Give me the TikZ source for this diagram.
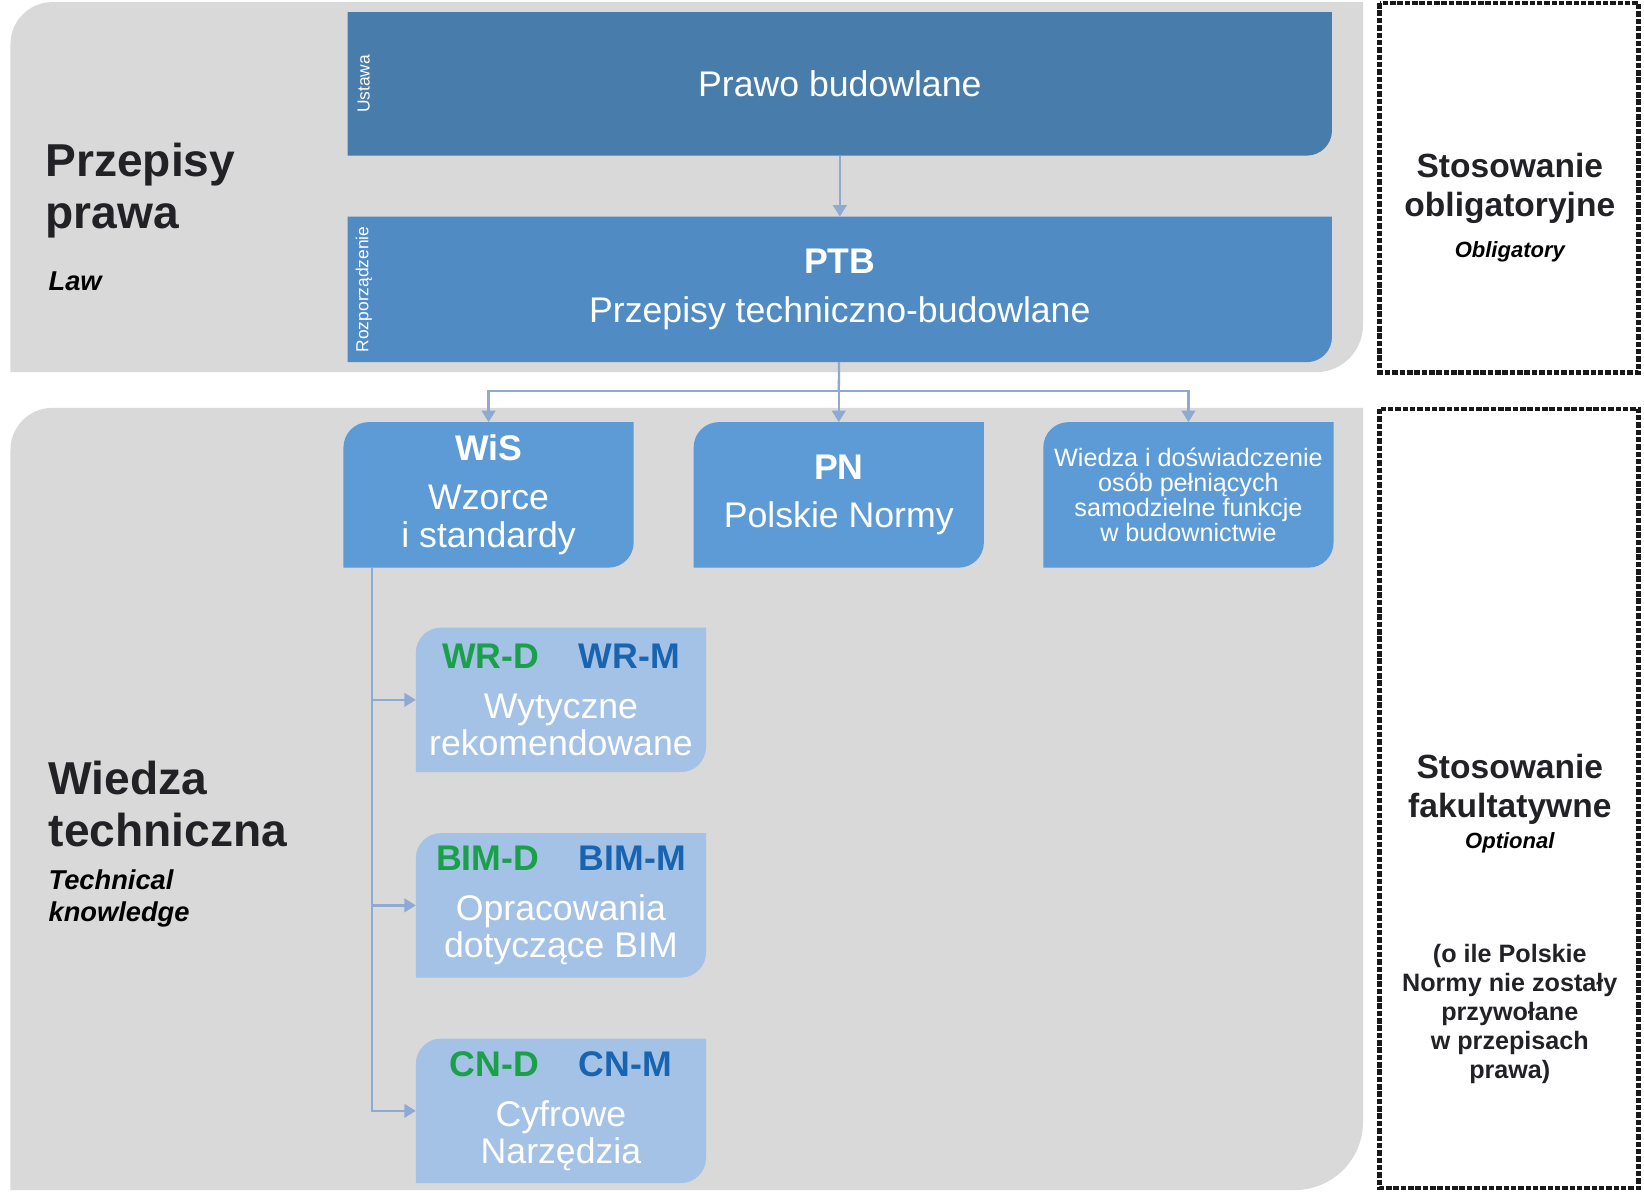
\documentclass[tikz,border=0pt]{standalone}
\usepackage{fontspec}
\setmainfont{Liberation Sans}
\usetikzlibrary{arrows.meta,backgrounds}

\definecolor{panelgrey}{RGB}{217,217,217}
\definecolor{lawblue}{RGB}{72,124,171}
\definecolor{ptbblue}{RGB}{80,139,196}
\definecolor{knowblue}{RGB}{92,155,213}
\definecolor{subblue}{RGB}{164,193,230}
\definecolor{linkblue}{RGB}{143,170,210}
\definecolor{codegreen}{RGB}{26,160,72}
\definecolor{codeblue}{RGB}{24,100,176}
\definecolor{labelgrey}{RGB}{34,34,38}

\newcommand{\fsz}[2]{\fontsize{#1}{#2}\selectfont}
% fill behind a node, bottom-right corner rounded
\newcommand{\fillbr}[2]{%
  \fill[#2] (#1.south west) -- (#1.north west) -- (#1.north east)
    -- ([yshift=12pt]#1.south east) arc[start angle=0,end angle=-90,radius=12pt] -- cycle;}
% fill behind a node, top-left and bottom-right corners rounded
\newcommand{\filltlbr}[2]{%
  \fill[#2] (#1.south west) -- ([yshift=-12pt]#1.north west) arc[start angle=180,end angle=90,radius=12pt]
    -- (#1.north east) -- ([yshift=12pt]#1.south east) arc[start angle=0,end angle=-90,radius=12pt] -- cycle;}

\begin{document}
\begin{tikzpicture}[x=0.5pt,y=-0.5pt,
    box/.style={inner sep=0pt,minimum width=469pt,minimum height=68pt,text=white,align=center},
    card/.style={inner sep=0pt,minimum width=138pt,minimum height=69pt,text=white,align=center},
    link/.style={draw=linkblue,line width=1.1pt},
    frame/.style={draw=black!90,line width=2.2pt,dash pattern=on 2.6pt off 0.9pt},
    >={Triangle[length=5.5pt,width=6.5pt]}]
	\useasboundingbox (0,0) rectangle (1568,1137);
	% law
	\node[box,font=\fsz{17}{20}] (prawo) at (801,80) {Prawo budowlane};
	\node[box,minimum height=69pt,font=\fsz{17}{23}] (ptb) at (801,276) {\textbf{PTB}\\Przepisy techniczno-budowlane};
	\node[rotate=90,inner sep=0pt,text=white,font=\fsz{8.3}{10}] (ustawa) at (347,80) {Ustawa};
	\node[rotate=90,inner sep=0pt,text=white,font=\fsz{8.3}{10}] (rozp) at (347,276) {Rozporządzenie};
	% technical knowledge
	\node[card,font=\fsz{17}{18}] (wis) at (466,472) {\textbf{WiS}\\[5.5pt]Wzorce\\i standardy};
	\node[card,font=\fsz{17}{23}] (pn) at (800,472) {\textbf{PN}\\Polskie Normy};
	\node[card,font=\fsz{12}{12}] (wiedza) at (1133.5,472) {Wiedza i doświadczenie\\osób pełniących\\samodzielne funkcje\\w budownictwie};
	\node[card,minimum height=68.5pt,font=\fsz{17}{17.5}] (wr) at (535,667.5) {\textbf{\color{codegreen}WR-D}\hspace{19pt}\textbf{\color{codeblue}WR-M}\\[6.5pt]Wytyczne\\rekomendowane};
	\node[card,minimum height=68.5pt,font=\fsz{17}{17.5}] (bim) at (535,863.5) {\textbf{\color{codegreen}BIM-D}\hspace{19pt}\textbf{\color{codeblue}BIM-M}\\[6.5pt]Opracowania\\dotyczące BIM};
	\node[card,minimum height=68.5pt,font=\fsz{17}{17.5}] (cn) at (535,1059.5) {\textbf{\color{codegreen}CN-D}\hspace{19pt}\textbf{\color{codeblue}CN-M}\\[6.5pt]Cyfrowe\\Narzędzia};
	% side labels
	\node[anchor=west,inner sep=0pt,align=left,text=labelgrey,font=\bfseries\fsz{22}{25}] (przepisy) at (43,182) {Przepisy\\prawa};
	\node[anchor=west,inner sep=0pt,font=\bfseries\itshape\fsz{13}{15}] (law) at (46,268) {Law};
	\node[anchor=west,inner sep=0pt,align=left,text=labelgrey,font=\bfseries\fsz{22}{25}] (wiedzat) at (46,767) {Wiedza\\techniczna};
	\node[anchor=west,inner sep=0pt,align=left,font=\bfseries\itshape\fsz{13}{15}] (technical) at (46,857) {Technical\\knowledge};
	\node[align=center,text=labelgrey,font=\bfseries\fsz{16}{18.5}] (oblig) at (1440,180) {Stosowanie\\obligatoryjne};
	\node[font=\bfseries\itshape\fsz{10.5}{12}] (obligen) at (1440,240) {Obligatory};
	\node[align=center,text=labelgrey,font=\bfseries\fsz{16}{18.5}] (fakult) at (1440,753) {Stosowanie\\fakultatywne};
	\node[font=\bfseries\itshape\fsz{10.5}{12}] (optional) at (1440,804) {Optional};
	\node[align=center,text=labelgrey,font=\bfseries\fsz{12}{13.75}] (uwaga) at (1440,967) {(o ile Polskie\\Normy nie zostały\\przywołane\\w przepisach\\prawa)};
	% frames
	\draw[frame] (1316,3) rectangle (1563,355);
	\draw[frame] (1316,390) rectangle (1563,1133);
	% connectors
	\coordinate (fork) at (800,373);
	\coordinate (trunk) at ([xshift=13.5pt]wis.south west);
	\draw[link,->] (prawo) -- (ptb);
	\draw[link] (ptb) -- (fork);
	\draw[link,->] (fork) -- (pn);
	\draw[link,->] (fork) -| (wis);
	\draw[link,->] (fork) -| (wiedza);
	\draw[link,->] (trunk) |- (wr);
	\draw[link,->] (trunk) |- (bim);
	\draw[link,->] (trunk) |- (cn);
	% panels and box fills
	\begin{scope}[on background layer]
		\fill[panelgrey] (10,355) -- (10,42) arc[start angle=180,end angle=90,radius=20pt] -- (1300,2) -- (1300,310) arc[start angle=0,end angle=-90,radius=22.5pt] -- cycle;
		\fill[panelgrey] (10,1135) -- (10,429) arc[start angle=180,end angle=90,radius=20pt] -- (1300,389) -- (1300,1070) arc[start angle=0,end angle=-90,radius=32.5pt] -- cycle;
		\fillbr{prawo}{lawblue}
		\fillbr{ptb}{ptbblue}
		\filltlbr{wis}{knowblue}
		\filltlbr{pn}{knowblue}
		\filltlbr{wiedza}{knowblue}
		\filltlbr{wr}{subblue}
		\filltlbr{bim}{subblue}
		\filltlbr{cn}{subblue}
	\end{scope}
\end{tikzpicture}
\end{document}
